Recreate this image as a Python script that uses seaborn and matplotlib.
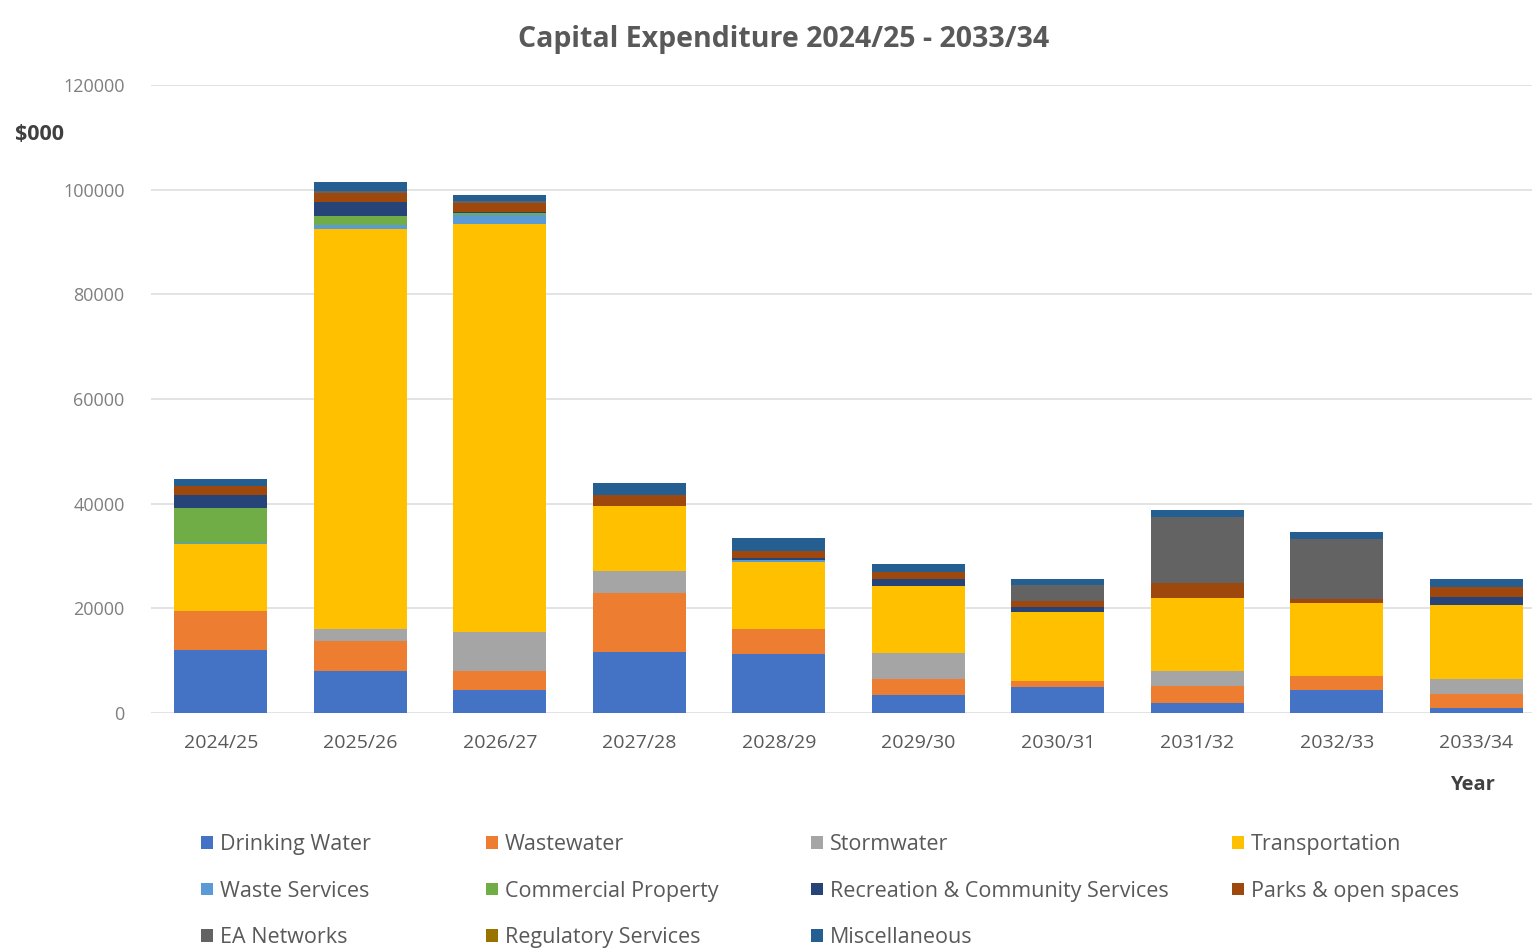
import matplotlib
matplotlib.use("Agg")
import matplotlib.pyplot as plt
from matplotlib.patches import Patch
import numpy as np
import pandas as pd
import seaborn as sns

# Financial years
years = ["2024/25", "2025/26", "2026/27", "2027/28", "2028/29",
         "2029/30", "2030/31", "2031/32", "2032/33", "2033/34"]

# Capital expenditure by activity ($000), bottom of the stack first
drinking_water = [12000, 8000, 4400, 11600, 11300, 3500, 4900, 1900, 4300, 1000]
wastewater = [7500, 5800, 3700, 11300, 4800, 3000, 1200, 3300, 2700, 2600]
stormwater = [0, 2300, 7400, 4300, 0, 5000, 0, 2900, 0, 2900]
transportation = [12700, 76300, 77900, 12300, 12800, 12800, 13200, 13800, 14000, 14100]
waste_services = [300, 800, 1800, 0, 400, 0, 0, 0, 0, 0]
commercial_property = [6700, 1700, 300, 0, 0, 0, 0, 0, 0, 0]
recreation_community = [2400, 2700, 300, 0, 300, 1300, 1000, 0, 0, 1600]
parks_open_spaces = [1700, 1800, 1700, 2200, 1300, 1300, 1100, 3000, 700, 1800]
ea_networks = [0, 300, 300, 0, 0, 0, 3000, 12500, 11500, 0]
regulatory_services = [0, 0, 0, 0, 0, 0, 0, 0, 0, 0]
miscellaneous = [1500, 1800, 1100, 2300, 2500, 1600, 1200, 1300, 1300, 1600]

series_names = ["Drinking Water", "Wastewater", "Stormwater", "Transportation",
                "Waste Services", "Commercial Property",
                "Recreation & Community Services", "Parks & open spaces",
                "EA Networks", "Regulatory Services", "Miscellaneous"]
series_values = [drinking_water, wastewater, stormwater, transportation,
                 waste_services, commercial_property, recreation_community,
                 parks_open_spaces, ea_networks, regulatory_services,
                 miscellaneous]
series_colors = ["#4472C4", "#ED7D31", "#A5A5A5", "#FFC000", "#5B9BD5",
                 "#70AD47", "#264478", "#9E480E", "#636363", "#997300",
                 "#255E91"]

y_ticks = [0, 20000, 40000, 60000, 80000, 100000, 120000]

sns.set_theme(style="white")
plt.rcParams["font.family"] = ["Open Sans", "DejaVu Sans"]

W, H = 1532, 950
fig = plt.figure(figsize=(W / 100, H / 100), dpi=100)
fig.patch.set_facecolor("white")
ax = fig.add_axes([151 / W, 1 - 713 / H, 1395 / W, (713 - 85) / H])

df = pd.DataFrame({"year": years})
bottom = np.zeros(len(years))
handles = []
for name, vals, col in zip(series_names, series_values, series_colors):
    df["value"] = vals
    sns.barplot(data=df, x="year", y="value", order=years, color=col,
                saturation=1, width=0.667, errorbar=None, bottom=bottom,
                linewidth=0, ax=ax)
    bottom = bottom + np.asarray(vals, dtype=float)
    handles.append(Patch(facecolor=col, edgecolor="none", label=name))

ax.set_xlim(-0.5, 9.5)
ax.set_ylim(0, 120000)
ax.set_yticks(y_ticks)
ax.set_yticklabels([str(v) for v in y_ticks])
ax.yaxis.grid(True, color="#e0e0e0", linewidth=1.3)
ax.set_axisbelow(True)
for s in ax.spines.values():
    s.set_visible(False)
ax.tick_params(axis="y", length=0, pad=19, labelsize=13, labelcolor="#7f7f7f")
ax.tick_params(axis="x", length=0, pad=15, labelsize=14, labelcolor="#595959")
ax.set_xlabel("")
ax.set_ylabel("")

fig.text(784 / W, 1 - 40 / H, "Capital Expenditure 2024/25 - 2033/34",
         ha="center", va="center", fontsize=20.5, fontweight="bold",
         color="#595959")
fig.text(15 / W, 1 - 134 / H, "$000", ha="left", va="center", fontsize=15.5,
         fontweight="bold", color="#404040")
fig.text(1495 / W, 1 - 785 / H, "Year", ha="right", va="center",
         fontsize=14.5, fontweight="bold", color="#404040")

# Four legend columns, read row by row
col_x = [201, 486, 811, 1232]
col_items = [[0, 4, 8], [1, 5, 9], [2, 6, 10], [3, 7]]
for x0, idx in zip(col_x, col_items):
    leg = fig.legend(handles=[handles[i] for i in idx],
                     loc="upper left", bbox_to_anchor=(x0 / W, 1 - 834 / H),
                     frameon=False, fontsize=15.5, handlelength=0.55,
                     handleheight=0.55, handletextpad=0.33, labelspacing=1.19,
                     borderaxespad=0, borderpad=0)
    for t in leg.get_texts():
        t.set_color("#595959")

fig.savefig("out.png", dpi=100, facecolor="white")
